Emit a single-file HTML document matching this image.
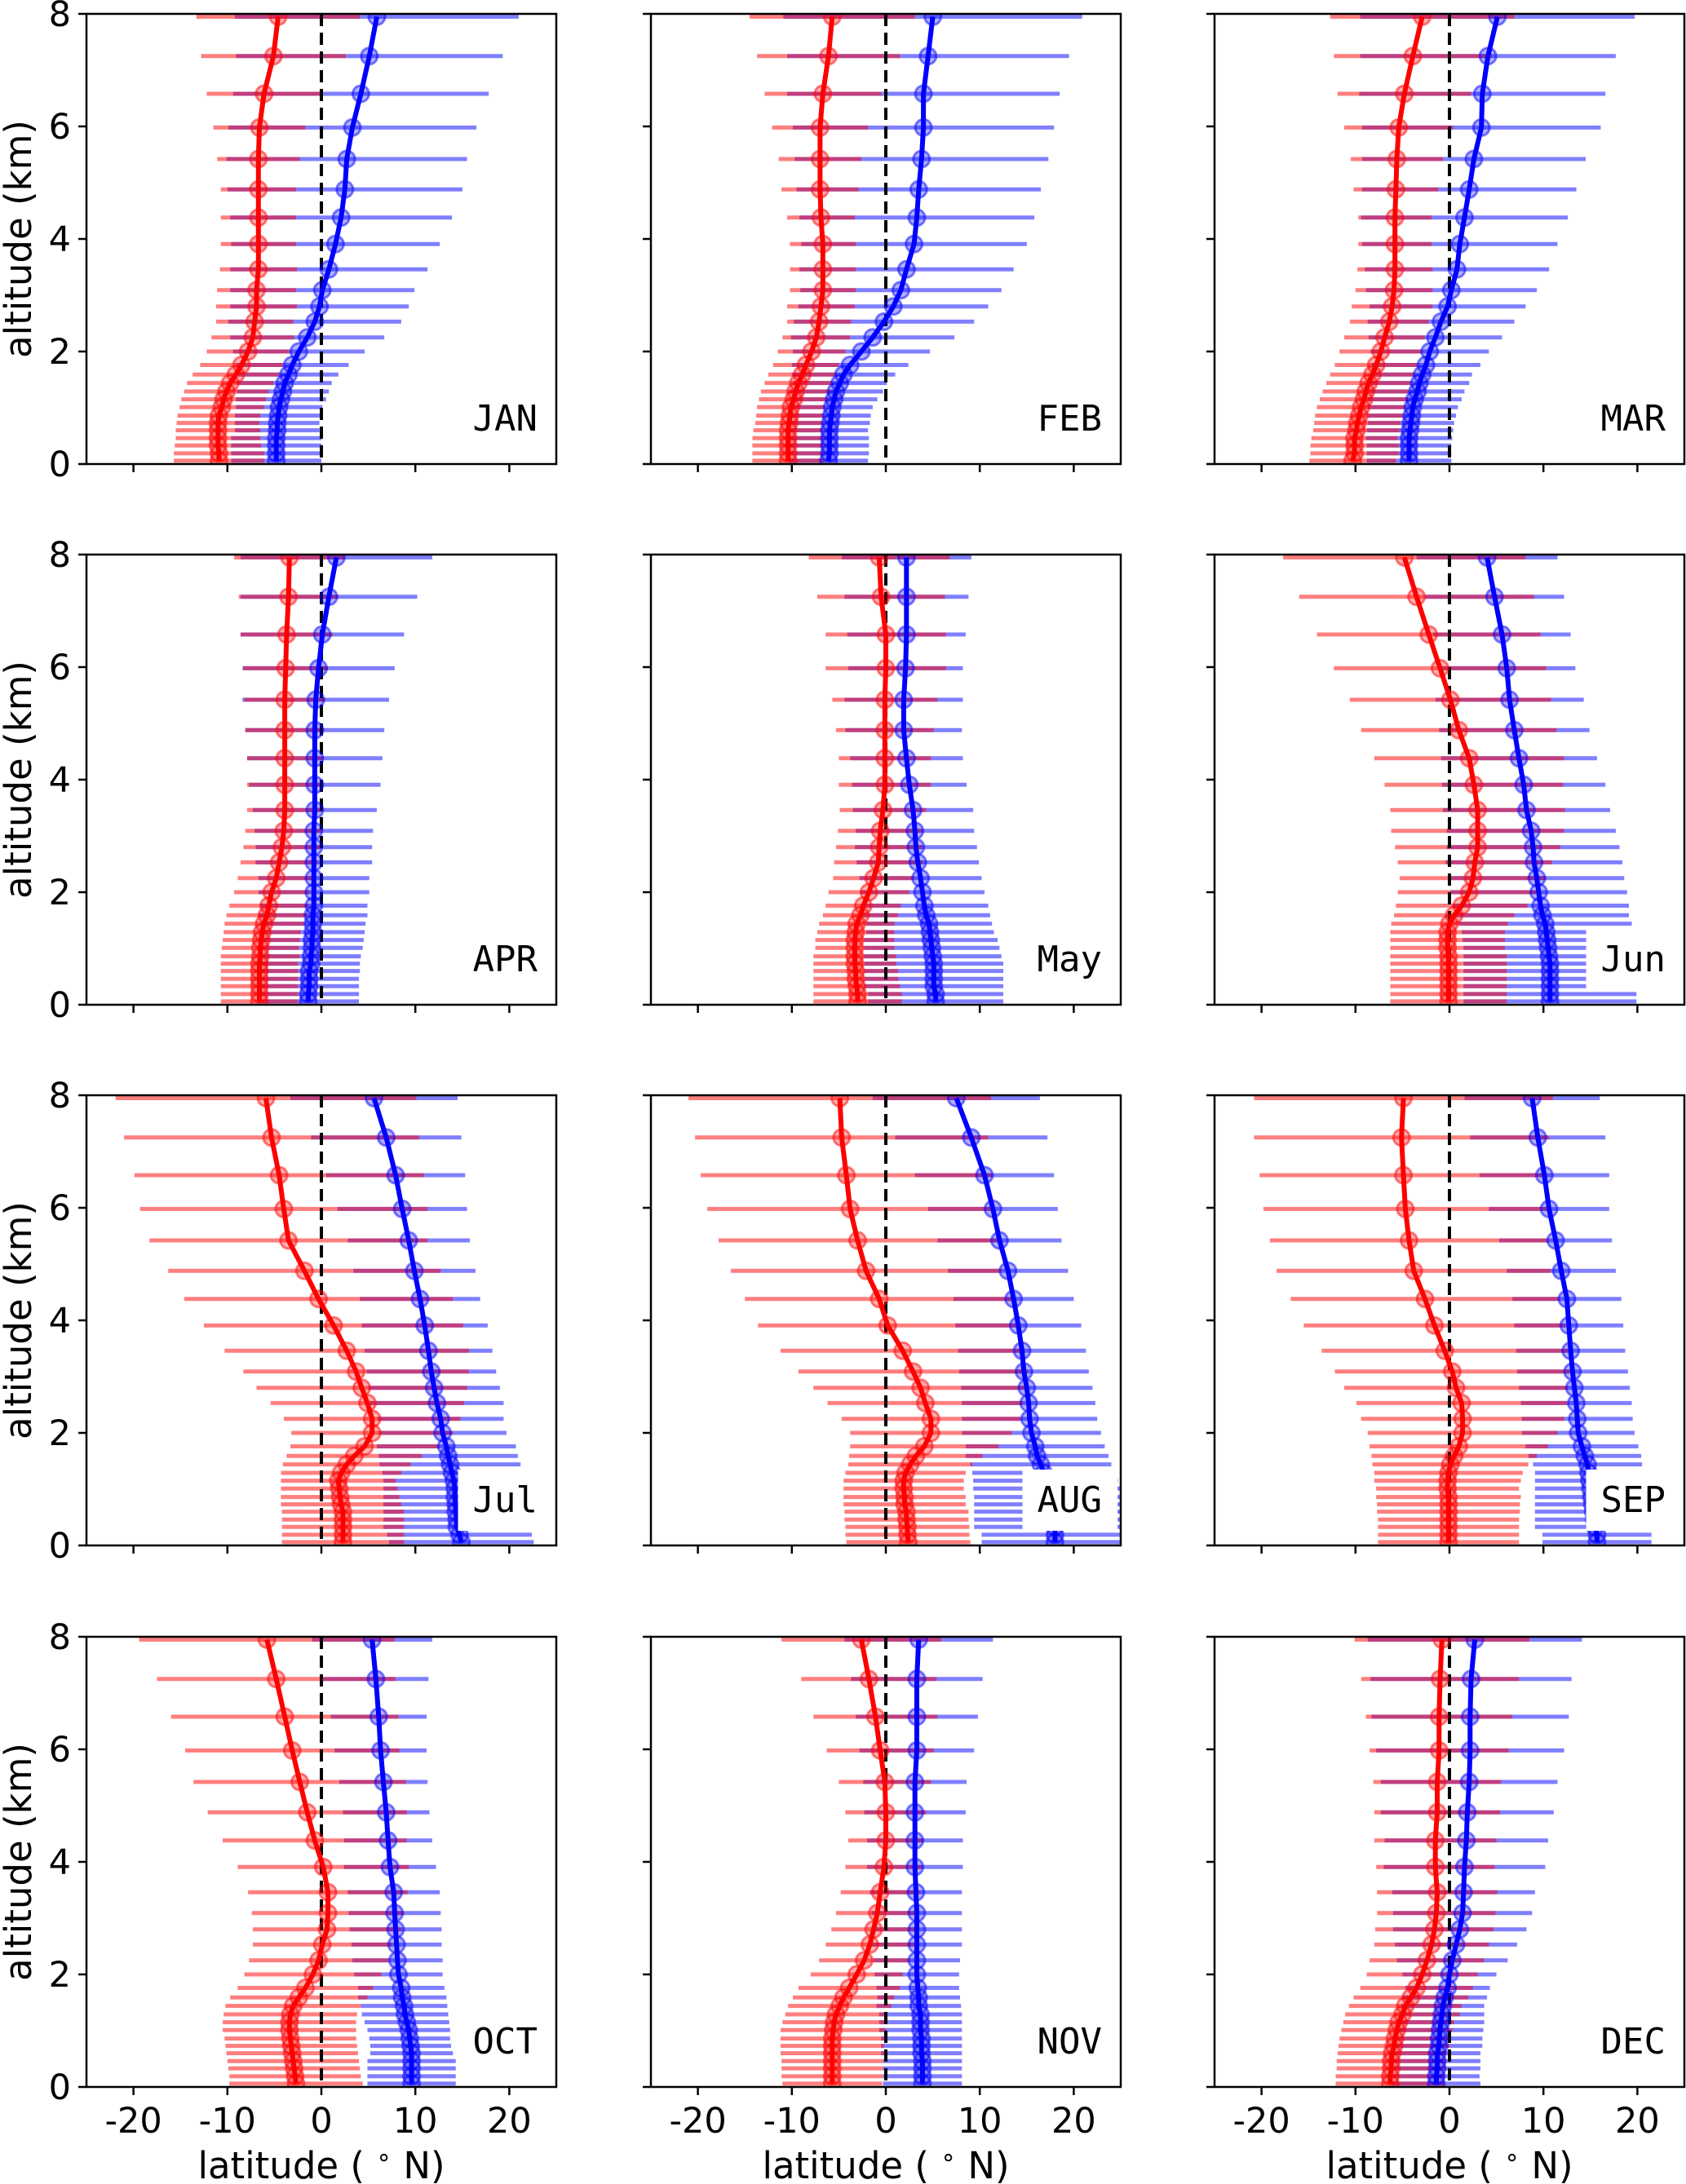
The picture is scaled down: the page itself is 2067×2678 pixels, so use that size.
<!DOCTYPE html>
<html><head><meta charset="utf-8">
<style>
html,body{margin:0;padding:0;background:#fff;}
svg{display:block;}
</style></head>
<body>
<svg id="fig" width="2067" height="2678" viewBox="0 0 2067 2678" xmlns="http://www.w3.org/2000/svg">
<rect width="2067" height="2678" fill="#fff"/>
</svg>
<script>
// altitude levels (km), top to bottom
const ALT = [7.95,7.25,6.58,5.98,5.42,4.88,4.38,3.91,3.46,3.09,2.8,2.53,2.25,2.0,1.76,1.59,1.44,1.29,1.15,1.01,0.86,0.73,0.6,0.46,0.33,0.19,0.06];
const MONTHS = ["JAN","FEB","MAR","APR","May","Jun","Jul","AUG","SEP","OCT","NOV","DEC"];
const X_TICKS = [-20,-10,0,10,20];
const Y_TICKS = [0,2,4,6,8];

const JAN_RC = [-4.6,-5.1,-6.1,-6.6,-6.7,-6.7,-6.7,-6.7,-6.7,-6.9,-6.9,-7.1,-7.3,-7.8,-8.5,-9.1,-9.7,-10.1,-10.4,-10.6,-10.9,-11,-11,-11,-11,-10.9,-10.9];
const JAN_RH = [8.7,7.7,6.1,4.9,4.4,4.0,4.0,4.0,4.1,4.2,4.3,4.1,4.4,4.4,4.4,4.6,4.6,4.5,4.5,4.5,4.4,4.4,4.5,4.5,4.6,4.8,4.8];
const JAN_BC = [5.9,5.1,4.2,3.3,2.7,2.5,2.1,1.5,0.8,0.1,-0.2,-0.7,-1.5,-2.4,-3.1,-3.5,-3.9,-4.1,-4.3,-4.5,-4.6,-4.7,-4.7,-4.8,-4.8,-4.8,-4.8];
const JAN_BH = [15.1,14.2,13.6,13.2,12.8,12.5,11.8,11.1,10.5,9.8,9.5,9.2,8.2,7.0,6.0,5.3,5.0,4.9,4.8,4.6,4.6,4.5,4.5,4.8,4.8,4.8,4.8];

const FEB_RC = [-5.7,-6.1,-6.7,-7,-7,-7,-6.9,-6.7,-6.7,-6.7,-6.9,-7.1,-7.4,-7.9,-8.5,-8.9,-9.3,-9.6,-9.8,-10.1,-10.2,-10.3,-10.4,-10.4,-10.4,-10.4,-10.4];
const FEB_RH = [8.8,7.6,6.2,5.1,4.4,4.1,3.6,3.5,3.5,3.5,3.6,3.4,3.6,3.6,3.5,3.6,3.6,3.7,3.7,3.6,3.6,3.6,3.7,3.8,3.8,3.8,3.8];
const FEB_BC = [5,4.5,4,4,3.8,3.5,3.3,3,2.2,1.6,0.8,-0.2,-1.4,-2.6,-3.8,-4.5,-4.9,-5.3,-5.5,-5.7,-5.8,-5.9,-6,-6,-6,-6,-6.1];
const FEB_BH = [15.9,15,14.5,13.9,13.5,13,12.5,12,11.4,10.7,10.1,9.6,8.7,7.3,6.2,5.5,5,5,4.6,4.3,4.2,4.2,4.1,4.2,4.2,4.2,4.2];

const MAR_RC = [-2.9,-3.9,-4.8,-5.4,-5.6,-5.7,-5.8,-5.8,-5.8,-5.9,-6.1,-6.4,-6.9,-7.3,-7.8,-8.2,-8.6,-8.9,-9.1,-9.4,-9.6,-9.8,-9.9,-10.1,-10.1,-10.1,-10.3];
const MAR_RH = [9.8,8.4,7.1,5.8,4.9,4.5,3.9,3.9,4.0,4.1,4.3,4.2,4.3,4.4,4.4,4.5,4.5,4.6,4.7,4.7,4.7,4.6,4.6,4.6,4.7,4.7,4.6];
const MAR_BC = [5.1,4.1,3.5,3.4,2.6,2.1,1.6,1.1,0.8,0.2,-0.2,-0.9,-1.5,-2.1,-2.5,-2.9,-3.2,-3.4,-3.7,-3.9,-4,-4.1,-4.2,-4.3,-4.3,-4.3,-4.3];
const MAR_BH = [14.6,13.6,13.1,12.7,11.9,11.4,11,10.4,9.8,9.1,8.3,7.8,7.1,6.3,5.8,5.3,5.3,5,5,4.8,4.7,4.6,4.6,4.6,4.5,4.5,4.5];

const APR_RC = [-3.4,-3.5,-3.7,-3.8,-3.9,-3.9,-3.9,-3.9,-3.9,-4,-4.2,-4.5,-4.8,-5.3,-5.6,-5.8,-6.1,-6.3,-6.4,-6.5,-6.5,-6.6,-6.6,-6.6,-6.6,-6.6,-6.6];
const APR_RH = [5.9,5.3,4.9,4.5,4.3,4.2,4,4,4,4.1,4.1,4.1,4.1,4,4.2,4.3,4.2,4.1,4.1,4.1,4.2,4.1,4.1,4.1,4.1,4.1,4.1];
const APR_BC = [1.6,0.8,0.1,-0.3,-0.6,-0.7,-0.7,-0.7,-0.7,-0.8,-0.8,-0.8,-0.8,-0.8,-0.8,-0.9,-0.9,-0.9,-1,-1,-1.1,-1.1,-1.3,-1.3,-1.3,-1.4,-1.4];
const APR_BH = [10.2,9.4,8.7,8.1,7.8,7.4,7.2,7,6.6,6.3,6.2,6.2,5.9,5.9,5.7,5.8,5.6,5.5,5.5,5.4,5.3,5.2,5.4,5.3,5.3,5.4,5.4];

const MAY_RC = [-0.7,-0.5,0,0,-0.1,-0.1,-0.1,-0.1,-0.3,-0.6,-0.7,-0.8,-1.3,-1.8,-2.4,-2.7,-3.1,-3.2,-3.3,-3.3,-3.3,-3.3,-3.2,-3.2,-3.1,-3,-3];
const MAY_RH = [7.5,6.8,6.4,6.4,5.6,5.2,4.9,4.9,4.6,4.5,4.6,4.7,4.3,4.3,4,4,4,4.1,4.2,4.2,4.4,4.4,4.5,4.5,4.6,4.7,4.7];
const MAY_BC = [2.2,2.2,2.2,2.1,1.9,1.9,2.2,2.5,2.9,3.1,3.2,3.4,3.7,3.9,4.1,4.3,4.6,4.7,4.8,4.9,5,5.1,5.1,5.1,5.1,5.3,5.3];
const MAY_BH = [6.9,6.6,6.3,6.1,6.3,6.2,6,6.1,6.4,6.3,6.5,6.5,6.5,6.6,6.8,6.8,6.7,6.8,7.1,7.2,7.3,7.4,7.4,7.4,7.4,7.2,7.2];

const JUN_RC = [-4.8,-3.5,-2.2,-1,0.1,1,2.1,2.6,3,3,3,2.7,2.5,2.1,1.3,0.5,0,-0.2,-0.2,-0.2,-0.1,-0.1,-0.1,-0.1,-0.1,-0.1,-0.1];
const JUN_RH = [12.9,12.5,11.9,11.3,10.7,10.4,10.1,9.5,9.3,9.2,8.8,8.2,7.8,7.6,7,6.4,6.2,6.1,6.1,6.1,6.2,6.2,6.2,6.2,6.2,6.2,6.2];
const JUN_BC = [4,4.8,5.6,6.1,6.4,6.9,7.4,7.9,8.2,8.7,8.9,9,9.3,9.5,9.7,9.9,10.2,10.3,10.4,10.5,10.6,10.7,10.7,10.7,10.7,10.7,10.7];
const JUN_BH = [7.5,7.4,7.3,7.3,7.9,8,8.3,8.7,8.9,9,9.2,9.4,9.3,9.4,9.4,9.2,9.2,9,9,9,9.1,9.2,9.2,9.2,9.2,9.2,9.2];

const JUL_RC = [-5.9,-5.3,-4.5,-4,-3.5,-1.8,-0.3,1.3,2.7,3.7,4.3,4.9,5.4,5.4,4.6,3.5,2.7,2.1,1.8,1.9,2,2.1,2.3,2.3,2.3,2.3,2.3];
const JUL_RH = [16,15.7,15.4,15.3,14.8,14.5,14.3,13.8,13,12,11.2,10.3,9.4,8.6,7.9,7.2,6.8,6.4,6.1,6.2,6.3,6.4,6.5,6.5,6.5,6.5,6.5];
const JUL_BC = [5.6,6.9,7.9,8.6,9.3,9.9,10.5,11,11.4,11.7,12,12.3,12.7,12.9,13.3,13.5,13.7,13.9,14.1,14.2,14.2,14.3,14.3,14.4,14.4,14.7,14.9];
const JUL_BH = [8.9,8,7.4,6.9,6.5,6.5,6.4,6.7,6.8,6.9,7,7.1,6.7,6.8,7.4,7.4,7.5,7.4,7.5,7.6,7.6,7.7,7.7,7.8,7.8,7.7,7.7];

const AUG_RC = [-4.9,-4.7,-4.2,-3.8,-3,-2.1,-0.7,0.2,1.8,2.9,3.7,4.2,4.8,4.8,4.1,3.2,2.6,2.1,1.9,1.9,2,2,2.2,2.2,2.3,2.3,2.4];
const AUG_RH = [16.1,15.6,15.5,15.2,14.8,14.4,14.3,13.8,13,12.2,11.4,10.4,9.5,8.6,7.9,7.1,6.6,6.4,6.4,6.4,6.5,6.5,6.6,6.6,6.6,6.6,6.6];
const AUG_BC = [7.5,9.1,10.5,11.4,12.1,13,13.6,14.1,14.5,14.7,15,15.2,15.3,15.5,15.9,16.1,16.5,16.8,17,17.2,17.4,17.6,17.8,17.9,18,18,18];
const AUG_BH = [8.9,8.1,7.4,6.9,6.6,6.4,6.4,6.7,6.8,6.9,7,7.1,7.2,7.4,7.4,7.6,7.5,7.6,7.7,7.9,8,8.2,8.4,8.5,8.6,7.8,7.8];

const SEP_RC = [-4.9,-5.1,-4.9,-4.7,-4.3,-3.8,-2.6,-1.6,-0.5,0.3,0.7,1.3,1.4,1.4,1,0.5,0.1,-0.1,-0.2,-0.2,-0.1,-0.1,-0.1,-0.1,-0.1,-0.1,-0.1];
const SEP_RH = [15.9,15.7,15.3,15.1,14.8,14.6,14.3,13.9,13.1,12.5,11.9,11.2,10.8,10.1,9.5,8.8,8.3,7.9,7.8,7.6,7.7,7.6,7.6,7.5,7.5,7.5,7.5];
const SEP_BC = [8.8,9.4,10.1,10.6,11.3,11.9,12.5,12.7,12.9,13.1,13.3,13.5,13.6,13.7,14.1,14.4,14.7,14.8,14.9,15,15.1,15.2,15.3,15.4,15.5,15.7,15.7];
const SEP_BH = [7.2,7.2,6.9,6.4,6,5.8,5.8,5.8,5.8,5.9,5.9,5.9,5.9,6,6,6,5.8,5.7,5.8,5.9,6,6.1,6.2,6.3,6.4,5.8,5.8];

const OCT_RC = [-5.8,-4.8,-3.9,-3.1,-2.3,-1.5,-0.7,0.2,0.7,0.7,0.6,0.1,-0.3,-0.9,-1.7,-2.4,-3,-3.3,-3.4,-3.4,-3.3,-3.2,-3.1,-3,-2.9,-2.8,-2.7];
const OCT_RH = [13.6,12.7,12.1,11.4,11.3,10.6,9.8,9.1,8.5,8.1,7.9,7.4,7.4,7.3,7.2,7.3,7.2,7.1,7.1,7.1,7,7,7,7,7,7,7.1];
const OCT_BC = [5.4,5.8,6.1,6.3,6.6,6.9,7.1,7.3,7.7,7.8,7.9,8,8.1,8.2,8.5,8.6,8.8,8.9,9.1,9.3,9.4,9.5,9.6,9.6,9.6,9.6,9.6];
const OCT_BH = [6.4,5.6,5.1,4.9,4.7,4.6,4.7,4.9,4.9,4.9,4.9,4.8,4.8,4.7,4.6,4.7,4.6,4.6,4.5,4.4,4.3,4.3,4.4,4.7,4.7,4.7,4.7];

const NOV_RC = [-2.6,-1.8,-1.1,-0.6,-0.1,0,0,-0.2,-0.6,-0.9,-1.3,-1.7,-2.3,-3.1,-3.9,-4.5,-4.9,-5.3,-5.5,-5.6,-5.7,-5.7,-5.7,-5.7,-5.7,-5.7,-5.7];
const NOV_RH = [8.5,7.2,6.6,5.7,4.9,4.3,4,4.1,4.2,4.4,4.5,4.7,4.8,4.9,5.4,5.4,5.5,5.4,5.5,5.6,5.5,5.5,5.5,5.4,5.4,5.4,5.3];
const NOV_BC = [3.5,3.3,3.3,3.3,3.1,3.1,3.1,3.1,3.2,3.3,3.3,3.3,3.3,3.3,3.4,3.5,3.5,3.7,3.7,3.7,3.8,3.8,3.8,3.9,3.9,3.9,3.9];
const NOV_BH = [7.9,7,6.5,6.1,5.5,5.4,5.1,5.1,4.9,4.8,4.8,4.8,4.6,4.5,4.4,4.4,4.5,4.4,4.4,4.4,4.3,4.3,4.3,4.2,4.2,4.2,4.2];

const DEC_RC = [-0.8,-1,-1.1,-1.1,-1.3,-1.3,-1.5,-1.5,-1.3,-1.4,-1.6,-1.9,-2.4,-2.9,-3.5,-4.1,-4.7,-5,-5.4,-5.6,-5.8,-5.9,-6.1,-6.2,-6.2,-6.3,-6.3];
const DEC_RH = [9.3,8.4,7.8,7.4,6.8,6.7,6.5,6.3,6.4,6.3,6.3,6.1,6.1,5.9,6,6.1,6,6.1,5.9,5.9,5.9,5.9,5.8,5.8,5.8,5.8,5.8];
const DEC_BC = [2.7,2.3,2.2,2.2,2.1,1.9,1.8,1.6,1.5,1.4,1.1,0.7,0.3,0,-0.2,-0.5,-0.7,-0.8,-0.9,-1,-1.1,-1.1,-1.3,-1.3,-1.3,-1.4,-1.4];
const DEC_BH = [11.4,10.7,10.5,10,9.4,9.2,8.7,8.6,7.6,7.4,7.1,6.5,5.9,5,4.5,4.5,4.4,4.5,4.6,4.6,4.6,4.6,4.6,4.6,4.6,4.6,4.7];

const SERIES = [
 [JAN_RC,JAN_RH,JAN_BC,JAN_BH],[FEB_RC,FEB_RH,FEB_BC,FEB_BH],[MAR_RC,MAR_RH,MAR_BC,MAR_BH],
 [APR_RC,APR_RH,APR_BC,APR_BH],[MAY_RC,MAY_RH,MAY_BC,MAY_BH],[JUN_RC,JUN_RH,JUN_BC,JUN_BH],
 [JUL_RC,JUL_RH,JUL_BC,JUL_BH],[AUG_RC,AUG_RH,AUG_BC,AUG_BH],[SEP_RC,SEP_RH,SEP_BC,SEP_BH],
 [OCT_RC,OCT_RH,OCT_BC,OCT_BH],[NOV_RC,NOV_RH,NOV_BC,NOV_BH],[DEC_RC,DEC_RH,DEC_BC,DEC_BH]
];

const NS = "http://www.w3.org/2000/svg";
const svg = document.getElementById('fig');
const COL_L = [106, 798, 1489];
const ROW_T = [17, 680, 1343, 2007];
const PW = 576, PH = 552;
const XMIN = -25, XMAX = 25, YMIN = 0, YMAX = 8;
function mk(tag, attrs, parent){
  const e = document.createElementNS(NS, tag);
  for (const k in attrs) e.setAttribute(k, attrs[k]);
  (parent||svg).appendChild(e);
  return e;
}

MONTHS.forEach((m, i) => {
  const r = Math.floor(i/3), c = i%3;
  const L = COL_L[c], T = ROW_T[r];
  const sx = v => L + (v - XMIN) / (XMAX - XMIN) * PW;
  const sy = v => T + PH - (v - YMIN) / (YMAX - YMIN) * PH;
  const [rc, rh, bc, bh] = SERIES[i];
  const g = mk('g', {});
  
  
  const clipId = 'clip' + i;
  const cp = mk('clipPath', {id: clipId}, g);
  mk('rect', {x: L, y: T, width: PW, height: PH}, cp);
  const plot = mk('g', {'clip-path': 'url(#' + clipId + ')'}, g);

  // error bars
  const drawBars = (cen, hw, color, name) => {
    const bg = mk('g', {}, plot);
    
    
    ALT.forEach((a, k) => {
      const ln = mk('line', {x1: sx(cen[k]-hw[k]), x2: sx(cen[k]+hw[k]), y1: sy(a), y2: sy(a),
        stroke: color, 'stroke-width': 5, 'stroke-opacity': 0.5}, bg);
      
      
    });
  };
  drawBars(bc, bh, '#0000ff', 'blue-error-bars');
  drawBars(rc, rh, '#ff0000', 'red-error-bars');

  // zero dashed line
  const z = mk('line', {x1: sx(0), x2: sx(0), y1: T, y2: T+PH, stroke: '#000', 'stroke-width': 4, 'stroke-dasharray': '15 8'}, plot);
  
  

  const drawLine = (cen, color, name) => {
    const pts = ALT.map((a, k) => sx(cen[k]).toFixed(1) + ',' + sy(a).toFixed(1)).join(' ');
    const pl = mk('polyline', {points: pts, fill: 'none', stroke: color, 'stroke-width': 6, 'stroke-linejoin': 'round'}, plot);
    
    
    ALT.forEach((a, k) => {
      const ci = mk('circle', {cx: sx(cen[k]), cy: sy(a), r: 10, fill: color, 'fill-opacity': 0.3,
        stroke: color, 'stroke-opacity': 0.5, 'stroke-width': 3}, plot);
      
      
    });
  };
  drawLine(bc, '#0000ff', 'blue');
  drawLine(rc, '#ff0000', 'red');

  // month label with white box
  const tx = L + PW - 23, ty = T + PH - 41;
  const box = mk('rect', {x: 0, y: T + PH - 93, width: 0, height: 75, fill: '#fff'}, g);
  
  
  const lab = mk('text', {x: tx, y: ty, 'text-anchor': 'end', 'font-size': 44,
    'font-family': '"DejaVu Sans Mono","Liberation Mono",monospace', fill: '#000'}, g);
  lab.textContent = m;
  
  
  const bb = lab.getBBox();
  box.setAttribute('x', bb.x - 18);
  box.setAttribute('width', Math.min(L + PW - 2, bb.x + bb.width + 19) - (bb.x - 18));

  // frame
  const fr = mk('rect', {x: L, y: T, width: PW, height: PH, fill: 'none', stroke: '#000', 'stroke-width': 2.5}, g);
  
  

  // ticks
  Y_TICKS.forEach(v => {
    const t = mk('line', {x1: L-10, x2: L, y1: sy(v), y2: sy(v), stroke: '#000', 'stroke-width': 2.5}, g);
    
    
    if (c === 0) {
      const tl = mk('text', {x: L-19, y: sy(v)+15, 'text-anchor': 'end', 'font-size': 43,
        'font-family': '"DejaVu Sans","Liberation Sans",sans-serif'}, g);
      tl.textContent = v;
      
      
    }
  });
  X_TICKS.forEach(v => {
    const t = mk('line', {x1: sx(v), x2: sx(v), y1: T+PH, y2: T+PH+10, stroke: '#000', 'stroke-width': 2.5}, g);
    
    
    if (r === 3) {
      const tl = mk('text', {x: sx(v), y: T+PH+56, 'text-anchor': 'middle', 'font-size': 43,
        'font-family': '"DejaVu Sans","Liberation Sans",sans-serif'}, g);
      tl.textContent = v;
      
      
    }
  });
  if (c === 0) {
    const cy = T + PH/2;
    const yl = mk('text', {x: 38, y: cy, transform: 'rotate(-90 38 ' + cy + ')', 'text-anchor': 'middle',
      'font-size': 45, 'font-family': '"DejaVu Sans","Liberation Sans",sans-serif'}, g);
    yl.textContent = 'altitude (km)';
    
    
  }
  if (r === 3) {
    const xl = mk('text', {x: L + PW/2, y: 2671, 'text-anchor': 'middle',
      'font-size': 45, 'font-family': '"DejaVu Sans","Liberation Sans",sans-serif'}, g);
    
    
    xl.appendChild(document.createTextNode('latitude ( '));
    const sup = mk('tspan', {'font-size': 30, dy: -16}, xl);
    sup.textContent = '\u2218';
    const rest = mk('tspan', {dy: 16}, xl);
    rest.textContent = ' N)';
  }
});
</script>
</body></html>
